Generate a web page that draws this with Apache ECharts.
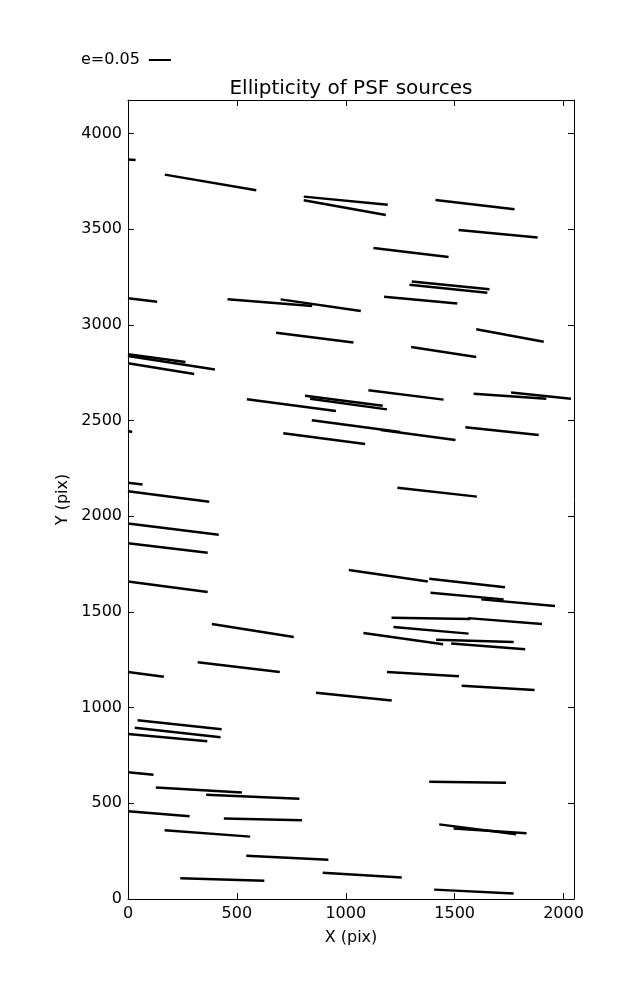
<!DOCTYPE html>
<html>
<head>
<meta charset="utf-8">
<script src="https://cdn.jsdelivr.net/npm/echarts@6/dist/echarts.min.js"></script>
<style>
html,body{margin:0;padding:0;background:#fff;}
#chart{width:637px;height:1000px;}
</style>
</head>
<body>
<div id="chart"></div>
<script>
// Ellipticity whiskers: start / end points in detector pixels
const segX1 = [0,169,807,807,1412,1518,1127,1303,1292,1176,0,457,701,680,1599,1300,0,0,0,1104,1587,1759,813,836,546,844,1161,1549,713,0,0,1237,0,0,0,0,1014,1383,1389,1622,1210,1562,385,1219,1081,1415,1484,320,0,1189,1532,863,44,31,0,0,128,359,0,440,168,543,894,240,1383,1429,1495,1406];
const segY1 = [3865,3786,3671,3652,3653,3497,3403,3228,3211,3148,3140,3134,3134,2960,2978,2885,2847,2838,2800,2659,2641,2647,2630,2614,2612,2502,2451,2465,2434,2446,2176,2150,2131,1963,1859,1660,1719,1674,1601,1566,1470,1468,1437,1421,1390,1355,1336,1237,1186,1186,1115,1078,934,895,862,663,583,545,458,421,359,226,137,108,613,390,369,49];
const segX2 = [35,589,1193,1184,1775,1881,1472,1660,1650,1512,134,846,1069,1035,1909,1599,264,399,304,1449,1921,2034,1170,1189,955,1250,1504,1886,1089,19,67,1602,373,417,366,366,1377,1731,1725,1961,1572,1901,761,1564,1447,1771,1824,697,165,1520,1867,1211,430,425,364,117,523,787,283,799,561,920,1257,626,1736,1782,1830,1771];
const segY2 = [3862,3704,3629,3575,3605,3457,3355,3187,3169,3113,3121,3099,3073,2908,2913,2833,2807,2768,2744,2610,2615,2615,2578,2559,2550,2441,2399,2425,2378,2441,2166,2103,2076,1904,1810,1604,1660,1629,1566,1531,1463,1437,1369,1387,1332,1343,1305,1186,1162,1164,1092,1038,887,845,824,650,556,524,432,411,326,205,113,96,608,338,344,29];

const xMax = 2048;
const yMax = 4176;
const keyLabel = 'e=0.05';

const segData = segX1.map((x, i) => ({coords: [[x, segY1[i]], [segX2[i], segY2[i]]]}));

const font = 'DejaVu Sans';
const fmt = v => String(v);
const axisCommon = {
  type: 'value',
  splitLine: {show: false},
  axisLine: {show: true, onZero: false, lineStyle: {color: '#000', width: 1}},
  axisTick: {show: true, inside: true, length: 6, lineStyle: {color: '#000', width: 1}},
};

const chart = echarts.init(document.getElementById('chart'), null, {renderer: 'canvas'});
chart.setOption({
  animation: false,
  backgroundColor: '#fff',
  title: {
    text: 'Ellipticity of PSF sources',
    left: 346, top: 74, textAlign: 'center',
    textStyle: {fontFamily: font, fontSize: 20, fontWeight: 'normal', color: '#000'}
  },
  legend: {
    data: [keyLabel],
    left: 76, top: 47,
    align: 'right',
    itemWidth: 22, itemHeight: 2,
    icon: 'rect',
    itemStyle: {borderWidth: 0, color: '#000'},
    lineStyle: {width: 0},
    textStyle: {fontFamily: font, fontSize: 16, color: '#000', padding: [0, 4, 0, 0]}
  },
  grid: {left: 128, right: 63, top: 100, bottom: 101},
  xAxis: [
    Object.assign({}, axisCommon, {
      min: 0, max: xMax, interval: 500, position: 'bottom',
      name: 'X (pix)', nameLocation: 'middle', nameGap: 31,
      nameTextStyle: {fontFamily: font, fontSize: 16, color: '#000'},
      axisLabel: {fontFamily: font, fontSize: 16, color: '#000', margin: 7, showMaxLabel: false, formatter: fmt}
    }),
    Object.assign({}, axisCommon, {
      min: 0, max: xMax, interval: 500, position: 'top',
      axisLabel: {show: false}
    })
  ],
  yAxis: [
    Object.assign({}, axisCommon, {
      min: 0, max: yMax, interval: 500, position: 'left',
      name: 'Y (pix)', nameLocation: 'middle', nameGap: 56,
      nameTextStyle: {fontFamily: font, fontSize: 16, color: '#000'},
      axisLabel: {fontFamily: font, fontSize: 16, color: '#000', margin: 6, showMaxLabel: false, formatter: fmt}
    }),
    Object.assign({}, axisCommon, {
      min: 0, max: yMax, interval: 500, position: 'right',
      axisLabel: {show: false}
    })
  ],
  series: [{
    name: keyLabel,
    type: 'lines',
    coordinateSystem: 'cartesian2d',
    xAxisIndex: 0, yAxisIndex: 0,
    polyline: false,
    silent: true,
    color: '#000',
    lineStyle: {color: '#000', width: 2.5, opacity: 1, cap: 'butt'},
    data: segData
  }]
});
</script>
</body>
</html>
